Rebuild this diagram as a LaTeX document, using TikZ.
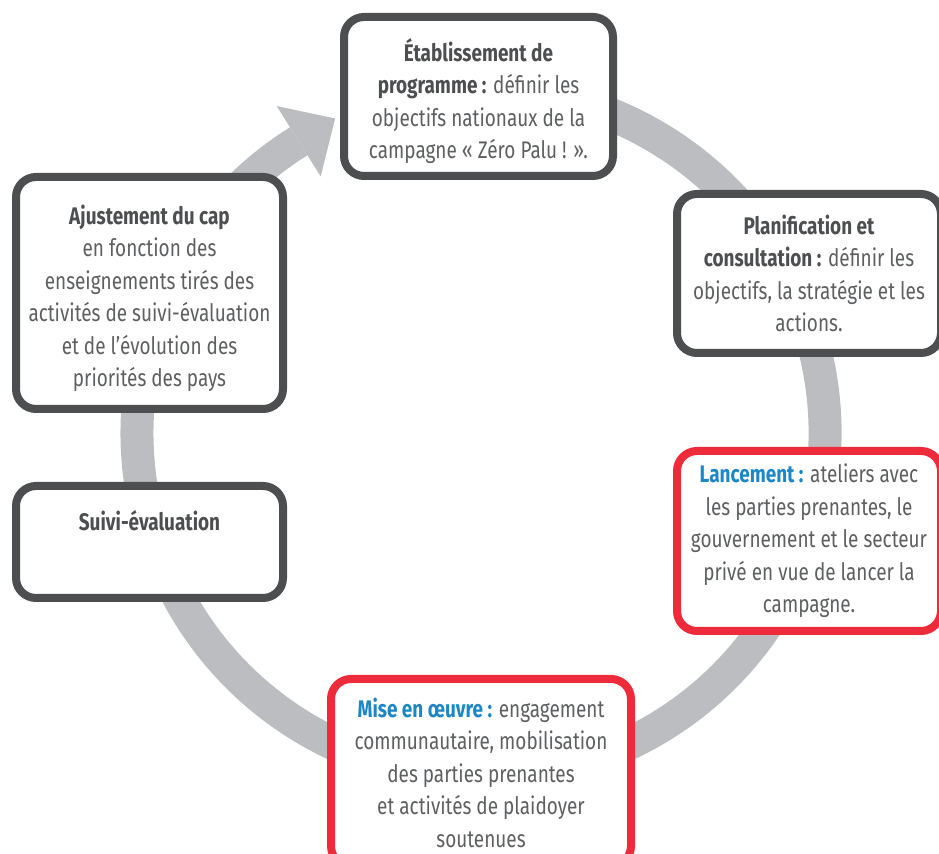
\documentclass[tikz,border=0pt]{standalone}
\usepackage{fontspec}
\setmainfont{Fira Sans}[FakeStretch=0.79]
\usetikzlibrary{calc}
\definecolor{boxgray}{HTML}{4D4E50}
\definecolor{txtgray}{HTML}{5E5F61}
\definecolor{ringgray}{HTML}{BCBDC0}
\definecolor{alertred}{HTML}{EE2B3B}
\definecolor{headblue}{HTML}{1C87C4}
\tikzset{
  stage/.style={draw=boxgray, line width=4pt, rounded corners=10pt, fill=white,
    align=center, inner sep=0pt, text=txtgray,
    font=\fontsize{12}{16.25}\selectfont},
  hot/.style={stage, draw=alertred},
  ring/.style={draw=ringgray, line width=16.5pt}
}
\begin{document}
\begin{tikzpicture}[x=0.5pt, y=-0.5pt]
  \useasboundingbox (0,0) rectangle (939,854);
  \clip (0,0) rectangle (939,854);
  \coordinate (c) at (481,433);
  % cycle ring with its arrow head
  \draw[ring] ($(c)+(-110:344)$) arc[start angle=-110, end angle=238, radius=344];
  \coordinate (b) at ($(c)+(238:344)$);
  \fill[ringgray] ($(b)+(238:41.5)$) -- ($(b)+(328:43)$) -- ($(b)+(58:41.5)$) -- cycle;
  % stages
  \node[stage, minimum width=134.5pt, minimum height=79.5pt] (etab) at (478.5,96.5)
    {\rule{0pt}{16pt}{\bfseries\color{boxgray} Établissement de}\\
     {\bfseries\color{boxgray} programme :} définir les\\
     objectifs nationaux de la\\
     campagne « Zéro Palu ! ».};
  \node[stage, minimum width=132pt, minimum height=79.5pt] (planif) at (809,273.5)
    {{\bfseries\color{boxgray} Planification et}\\
     {\bfseries\color{boxgray} consultation :} définir les\\
     objectifs, la stratégie et les\\
     actions.};
  \node[hot, minimum width=132pt, minimum height=90pt] (lanc) at (809,541)
    {{\bfseries\color{headblue} Lancement :} ateliers avec\\
     les parties prenantes, le\\
     gouvernement et le secteur\\
     privé en vue de lancer la\\
     campagne.};
  \node[hot, minimum width=150pt, minimum height=93.5pt] (mise) at (481,772.5)
    {{\bfseries\color{headblue} Mise en œuvre :} engagement\\
     communautaire, mobilisation\\
     des parties prenantes\\
     et activités de plaidoyer\\
     soutenues};
  \node[stage, minimum width=133.5pt, minimum height=56pt] (suivi) at (149.5,542)
    {{\bfseries\color{boxgray} Suivi-évaluation}\\ \strut};
  \node[stage, minimum width=133.5pt, minimum height=116pt] (ajust) at (149.5,293)
    {\rule{0pt}{15pt}{\bfseries\color{boxgray} Ajustement du cap}\\
     en fonction des\\
     enseignements tirés des\\
     activités de suivi-évaluation\\
     et de l’évolution des\\
     priorités des pays};
\end{tikzpicture}
\end{document}
